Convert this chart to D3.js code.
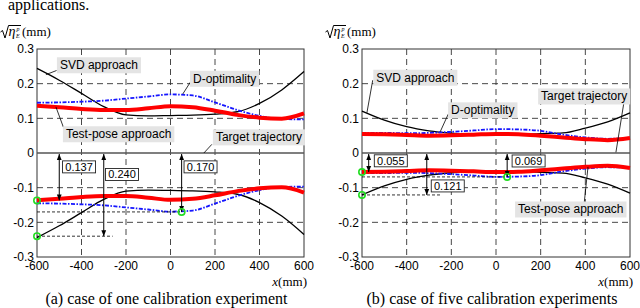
<!DOCTYPE html>
<html>
<head>
<meta charset="utf-8">
<script src="https://cdn.jsdelivr.net/npm/d3@7"></script>
<style>
  body { margin: 0; background: #fff; }
  svg { display: block; }
</style>
</head>
<body>
<div id="chart"></div>
<script>
// positions along the trajectory (mm)
const xs = [-600, -500, -400, -300, -200, -100, 0, 100, 200, 300, 400, 500, 600];

// (a) one calibration experiment
const svdOne = [0.244, 0.21, 0.172, 0.134, 0.11, 0.107, 0.108, 0.109, 0.112, 0.119, 0.143, 0.182, 0.235];
const doptOne = [0.145, 0.146, 0.148, 0.151, 0.157, 0.163, 0.169, 0.166, 0.146, 0.124, 0.107, 0.098, 0.097];
const poseOne = [0.136, 0.132, 0.127, 0.124, 0.124, 0.129, 0.135, 0.132, 0.122, 0.11, 0.102, 0.099, 0.114];

// (b) five calibration experiments
const svdFive = [0.121, 0.095, 0.076, 0.064, 0.057, 0.053, 0.052, 0.053, 0.056, 0.058, 0.072, 0.09, 0.116];
const doptFive = [0.058, 0.058, 0.057, 0.058, 0.061, 0.065, 0.069, 0.068, 0.064, 0.053, 0.045, 0.041, 0.042];
const poseFive = [0.055, 0.054, 0.052, 0.05, 0.051, 0.053, 0.055, 0.054, 0.05, 0.045, 0.04, 0.037, 0.043];

const yTicks = [0.3, 0.2, 0.1, 0, -0.1, -0.2, -0.3];
const yTickLabels = ["0.3", "0.2", "0.1", "0", "-0.1", "-0.2", "-0.3"];
const xTicks = [-600, -400, -200, 0, 200, 400, 600];

// max error values marked with arrows
const gapValuesOne = [0.137, 0.240, 0.170];
const gapValuesFive = [0.055, 0.121, 0.069];
const gapLabelsOne = ["0.137", "0.240", "0.170"];
const gapLabelsFive = ["0.055", "0.121", "0.069"];

const seriesNames = ["SVD approach", "D-optimality", "Test-pose approach", "Target trajectory"];
const captions = ["(a) case of one calibration experiment", "(b) case of five calibration experiments"];

const W = 640, H = 308;
const sans = "'Liberation Sans', Arial, sans-serif";
const serif = "'Liberation Serif', 'Times New Roman', serif";

const svg = d3.select("#chart").append("svg")
  .attr("width", W).attr("height", H);

const defs = svg.append("defs");
defs.append("marker")
  .attr("id", "head")
  .attr("viewBox", "0 0 6 6")
  .attr("refX", 6).attr("refY", 3)
  .attr("markerWidth", 6).attr("markerHeight", 6)
  .attr("orient", "auto-start-reverse")
  .attr("markerUnits", "userSpaceOnUse")
  .append("path").attr("d", "M0,0.6L6,3L0,5.4Z").attr("fill", "#000");

// cropped line of the surrounding paper text
svg.append("text")
  .attr("x", 8).attr("y", 10)
  .style("font-family", serif).style("font-size", "16px")
  .text("applications.");

const panels = [
  {
    range: [37, 304], svd: svdOne, dopt: doptOne, pose: poseOne,
    gapX: [-500, -300, 50], gapValues: gapValuesOne, gapLabels: gapLabelsOne,
    gapBox: [[-411, -0.040], [-218, -0.062], [135, -0.040]],
    refLines: [[-600, 50, 2], [-600, -260, 1]],
    markers: [[-600, 0], [-600, 1], [50, 2]],
    labels: [
      { text: seriesNames[0], at: [-497, 0.254], from: [-560, 0.226], to: [-512, 0.238] },
      { text: seriesNames[1], at: [101, 0.215], from: [55, 0.170], to: [90, 0.205] },
      { text: seriesNames[2], at: [-470, 0.055], from: [-515, 0.133], to: [-480, 0.072] },
      { text: seriesNames[3], at: [204, 0.046], from: [150, 0], to: [186, 0.025] }
    ],
    caption: captions[0]
  },
  {
    range: [362, 630], svd: svdFive, dopt: doptFive, pose: poseFive,
    gapX: [-570, -310, 50], gapValues: gapValuesFive, gapLabels: gapLabelsFive,
    gapBox: [[-471, -0.0225], [-216, -0.095], [146, -0.023]],
    refLines: [[-600, 50, 2], [-600, -250, 1]],
    markers: [[-600, 0], [-600, 1], [50, 2]],
    labels: [
      { text: seriesNames[0], at: [-536, 0.218], from: [-578, 0.116], to: [-552, 0.21] },
      { text: seriesNames[1], at: [-201, 0.124], from: [-250, 0.061], to: [-214, 0.112] },
      { text: seriesNames[2], at: [99, -0.162], from: [412, -0.04], to: [394, -0.15] },
      { text: seriesNames[3], at: [202, 0.164], from: [537, 0.002], to: [573, 0.147] }
    ],
    caption: captions[1]
  }
];

panels.forEach((p, pi) => {
  const x = d3.scaleLinear().domain([-600, 600]).range(p.range);
  const y = d3.scaleLinear().domain([-0.3, 0.3]).range([257, 49]);
  const g = svg.append("g");

  // grid
  g.selectAll(".vgrid").data([-400, -200, 0, 200, 400]).enter().append("line")
    .attr("x1", d => x(d)).attr("x2", d => x(d))
    .attr("y1", y(0.3)).attr("y2", y(-0.3))
    .attr("stroke", "#333").attr("stroke-width", 0.9)
    .attr("stroke-dasharray", "6,4");
  g.selectAll(".hgrid").data([0.2, 0.1, -0.1, -0.2]).enter().append("line")
    .attr("x1", x(-600)).attr("x2", x(600))
    .attr("y1", d => y(d)).attr("y2", d => y(d))
    .attr("stroke", "#333").attr("stroke-width", 0.9)
    .attr("stroke-dasharray", "6,4");

  // frame
  g.append("rect")
    .attr("x", x(-600)).attr("y", y(0.3))
    .attr("width", x(600) - x(-600)).attr("height", y(-0.3) - y(0.3))
    .attr("fill", "none").attr("stroke", "#333").attr("stroke-width", 1);
  g.append("line")
    .attr("x1", x(-600)).attr("x2", x(600))
    .attr("y1", y(0)).attr("y2", y(0))
    .attr("stroke", "#555").attr("stroke-width", 1.6);

  // tick labels
  g.selectAll(".ylab").data(yTicks).enter().append("text")
    .attr("x", x(-600) - 3).attr("y", d => y(d))
    .attr("dy", "0.35em").attr("text-anchor", "end")
    .style("font-family", sans).style("font-size", "12px")
    .text((d, i) => yTickLabels[i]);
  g.selectAll(".xlab").data(xTicks).enter().append("text")
    .attr("x", d => x(d)).attr("y", 270)
    .attr("text-anchor", "middle")
    .style("font-family", sans).style("font-size", "12px")
    .text(d => d);

  // x axis title
  const xt = g.append("text")
    .attr("x", x(600) + 3).attr("y", 285.5).attr("text-anchor", "end")
    .style("font-family", serif).style("font-size", "13px");
  xt.append("tspan").style("font-style", "italic").text("x");
  xt.append("tspan").text("(mm)");

  // y axis title: sqrt(eta_E^p) (mm)
  const ox = x(-600) - 37;
  const yt = g.append("g").attr("transform", `translate(${ox},0)`);
  yt.append("path")
    .attr("d", "M0.5,32 L2.5,30.5 L5,38 L8.5,25.5 L21,25.5")
    .attr("fill", "none").attr("stroke", "#000").attr("stroke-width", 1);
  yt.append("text").attr("x", 8.5).attr("y", 36)
    .style("font-family", serif).style("font-size", "14px").style("font-style", "italic")
    .text("η");
  yt.append("text").attr("x", 16.5).attr("y", 31)
    .style("font-family", serif).style("font-size", "6px").style("font-style", "italic")
    .text("p");
  yt.append("text").attr("x", 16).attr("y", 38)
    .style("font-family", serif).style("font-size", "6px").style("font-style", "italic")
    .text("E");
  yt.append("text").attr("x", 22).attr("y", 36)
    .style("font-family", serif).style("font-size", "13px")
    .text("(mm)");

  // curves (upper half positive, lower half mirrored)
  const series = [
    { values: p.svd, color: "#000", width: 1.3, dash: null },
    { values: p.dopt, color: "#1515ff", width: 1.8, dash: "4,1.5,1.5,1.5" },
    { values: p.pose, color: "#ff0000", width: 4, dash: null }
  ];
  [1, -1].forEach(sign => {
    const line = d3.line()
      .x((d, i) => x(xs[i]))
      .y(d => y(sign * d))
      .curve(d3.curveMonotoneX);
    series.forEach(s => {
      g.append("path")
        .attr("d", line(s.values))
        .attr("fill", "none")
        .attr("stroke", s.color)
        .attr("stroke-width", s.width)
        .attr("stroke-dasharray", s.dash);
    });
  });

  // dashed reference levels
  p.refLines.forEach(([a, b, k]) => {
    g.append("line")
      .attr("x1", x(a)).attr("x2", x(b))
      .attr("y1", y(-p.gapValues[k])).attr("y2", y(-p.gapValues[k]))
      .attr("stroke", "#000").attr("stroke-width", 0.8)
      .attr("stroke-dasharray", "3,2");
  });

  // double arrows with values
  p.gapX.forEach((gx, i) => {
    g.append("line")
      .attr("x1", x(gx)).attr("x2", x(gx))
      .attr("y1", y(0) + 1).attr("y2", y(-p.gapValues[i]))
      .attr("stroke", "#000").attr("stroke-width", 1)
      .attr("marker-start", "url(#head)")
      .attr("marker-end", "url(#head)");
    const cx = x(p.gapBox[i][0]), cy = y(p.gapBox[i][1]);
    g.append("rect")
      .attr("x", cx - 16.5).attr("y", cy - 6)
      .attr("width", 33).attr("height", 12)
      .attr("fill", "#fff").attr("stroke", "#222").attr("stroke-width", 0.9);
    g.append("text")
      .attr("x", cx).attr("y", cy).attr("dy", "0.36em")
      .attr("text-anchor", "middle")
      .style("font-family", sans).style("font-size", "11px")
      .text(p.gapLabels[i]);
  });

  // green circles at extreme values
  p.markers.forEach(([mx, k]) => {
    g.append("circle")
      .attr("cx", x(mx)).attr("cy", y(-p.gapValues[k]))
      .attr("r", 3.2)
      .attr("fill", "none").attr("stroke", "#22dd22").attr("stroke-width", 1.6);
  });

  // series labels with leader lines
  p.labels.forEach(l => {
    g.append("line")
      .attr("x1", x(l.from[0])).attr("y1", y(l.from[1]))
      .attr("x2", x(l.to[0])).attr("y2", y(l.to[1]))
      .attr("stroke", "#000").attr("stroke-width", 0.8);
    const t = g.append("text")
      .attr("x", x(l.at[0])).attr("y", y(l.at[1])).attr("dy", "0.36em")
      .style("font-family", sans).style("font-size", "12px")
      .text(l.text);
    const bb = t.node().getBBox();
    g.insert("rect", function () { return t.node(); })
      .attr("x", bb.x - 3).attr("y", bb.y - 1)
      .attr("width", bb.width + 6).attr("height", bb.height + 2)
      .attr("fill", "#e4e4e4");
  });

  // caption
  g.append("text")
    .attr("x", (p.range[0] + p.range[1]) / 2 - 4).attr("y", 304)
    .attr("text-anchor", "middle")
    .style("font-family", serif).style("font-size", "16px")
    .text(p.caption);
});
</script>
</body>
</html>
